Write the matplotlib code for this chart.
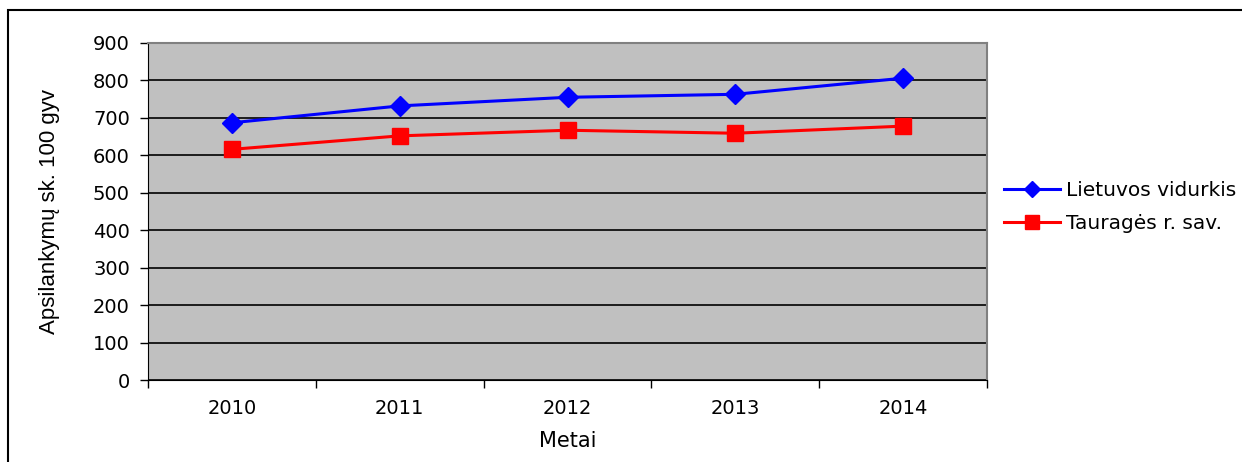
import matplotlib
matplotlib.use("Agg")
import matplotlib.pyplot as plt
from matplotlib.patches import Rectangle

years = ["2010", "2011", "2012", "2013", "2014"]
lietuva = [687, 732, 755, 763, 806]
taurage = [616, 652, 667, 659, 678]
y_ticks = [0, 100, 200, 300, 400, 500, 600, 700, 800, 900]

plt.rcParams['font.family'] = ['DejaVu Sans']

fig = plt.figure(figsize=(12.42, 4.62), dpi=100)
ax = fig.add_axes([148/1242, 1-380/462, (987-148)/1242, (380-43)/462])
ax.set_facecolor('#C0C0C0')

x = list(range(len(years)))
ax.plot(x, lietuva, color='#0000FF', lw=2.2, marker='D', markersize=10,
        label='Lietuvos vidurkis', zorder=3)
ax.plot(x, taurage, color='#FF0000', lw=2.2, marker='s', markersize=12,
        label='Tauragės r. sav.', zorder=3)

ax.set_xlim(-0.5, len(years) - 0.5)
ax.set_ylim(0, 900)
ax.set_yticks(y_ticks)
ax.set_yticklabels([str(v) for v in y_ticks], fontsize=14)
ax.set_xticks(x)
ax.set_xticklabels(years, fontsize=14)
ax.tick_params(axis='x', which='major', length=0, pad=14)
ax.set_xticks([i - 0.5 for i in range(len(years) + 1)], minor=True)
ax.tick_params(axis='x', which='minor', length=6, direction='out', color='black', width=1)
ax.tick_params(axis='y', length=6, direction='out', width=1, pad=7)

ax.yaxis.grid(True, color='black', lw=1.2)
ax.set_axisbelow(True)
for s in ['left', 'bottom']:
    ax.spines[s].set_color('black')
for s in ['top', 'right']:
    ax.spines[s].set_color('#808080')
    ax.spines[s].set_linewidth(1.5)

ax.set_xlabel('Metai', fontsize=15, labelpad=9)
ax.set_ylabel('Apsilankymų sk. 100 gyv', fontsize=16,
              family=['Liberation Sans', 'DejaVu Sans'], labelpad=24)

ax.legend(loc='upper left', bbox_to_anchor=(1004/1242, 1-181/462), bbox_transform=fig.transFigure,
          frameon=False, fontsize=14.5, handlelength=2.8, handletextpad=0.3, labelspacing=0.68,
          borderaxespad=0, borderpad=0, markerscale=0.8)

fig.patches.append(Rectangle((8/1242, -0.1), 1.2, 1 - 10/462 + 0.1, transform=fig.transFigure,
                             fill=False, edgecolor='black', lw=1.5))

fig.savefig('out.png', dpi=100)
